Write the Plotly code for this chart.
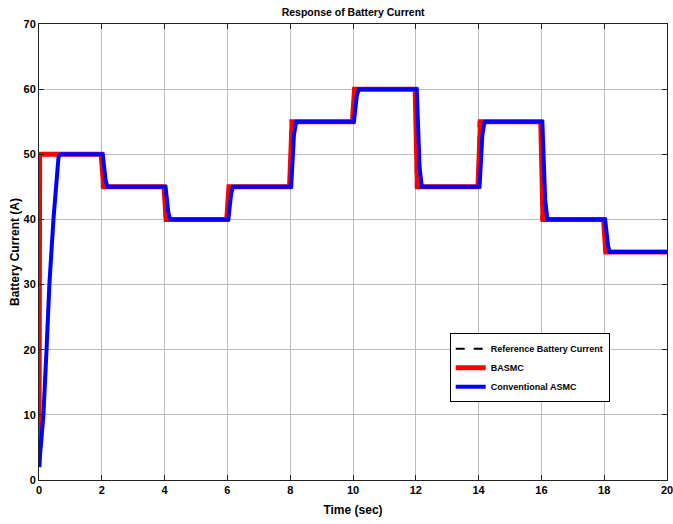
import plotly.graph_objects as go

# Reference battery current set-points (A) and the times (s) they switch
step_times = [0, 2, 4, 6, 8, 10, 12, 14, 16, 18, 20]
ref_levels = [50, 45, 40, 45, 55, 60, 45, 55, 40, 35, 35]

# BASMC response: near-instant tracking of each step
bas_t = [0, 0.02, 1.98, 2.06, 3.98, 4.05, 5.98, 6.05, 7.98, 8.06, 9.98, 10.05,
         11.98, 12.05, 13.98, 14.06, 15.98, 16.05, 17.98, 18.05, 20]
bas_i = [2, 50, 50, 45, 45, 40, 40, 45, 45, 55, 55, 60,
         60, 45, 45, 55, 55, 40, 40, 35, 35]

# Conventional ASMC response: slower start-up and lagged transitions
asmc_t = [0, 0.14, 0.24, 0.33, 0.46, 0.56, 0.62, 0.68,
          2.03, 2.12, 2.18, 4.03, 4.12, 4.18, 6.03, 6.12, 6.18,
          8.03, 8.12, 8.19, 10.03, 10.12, 10.19, 12.03, 12.12, 12.19,
          14.03, 14.12, 14.19, 16.03, 16.12, 16.19, 18.03, 18.12, 18.18, 20]
asmc_i = [2, 10, 20, 30, 40, 47, 49.5, 50,
          50, 46, 45, 45, 41, 40, 40, 44, 45,
          45, 53, 55, 55, 59, 60, 60, 48, 45,
          45, 53, 55, 55, 43, 40, 40, 36, 35, 35]

# Reference as a staircase
ref_t, ref_i = [], []
for k in range(len(step_times) - 1):
    ref_t += [step_times[k], step_times[k + 1]]
    ref_i += [ref_levels[k], ref_levels[k]]

fig = go.Figure()
fig.add_trace(go.Scatter(x=ref_t, y=ref_i, mode="lines", name="Reference Battery Current",
                         line=dict(color="black", width=2, dash="dash")))
fig.add_trace(go.Scatter(x=bas_t, y=bas_i, mode="lines", name="BASMC",
                         line=dict(color="#ff0000", width=5)))
fig.add_trace(go.Scatter(x=asmc_t, y=asmc_i, mode="lines", name="Conventional ASMC",
                         line=dict(color="#0000ff", width=4)))

font_family = "Liberation Sans, Arial, sans-serif"
axis_common = dict(
    showgrid=True, gridcolor="#bdbdbd", gridwidth=1,
    showline=True, linecolor="#222222", linewidth=1, mirror="allticks",
    ticks="inside", ticklen=5, tickcolor="#222222",
    zeroline=False, ticklabeloverflow="allow", automargin=False,
    tickfont=dict(family=font_family, size=11, color="black", weight="bold"),
)

fig.update_layout(
    width=673, height=524,
    margin=dict(l=39, r=6, t=24, b=44),
    paper_bgcolor="white", plot_bgcolor="white",
    title=dict(text="Response of Battery Current", x=0.5247, xanchor="center",
               y=0.977, yanchor="middle",
               font=dict(family=font_family, size=10.5, color="black", weight="bold")),
    xaxis=dict(range=[0, 20], dtick=2, tick0=0,
               title=dict(text="Time (sec)", standoff=10,
                          font=dict(family=font_family, size=12, color="black", weight="bold")),
               **axis_common),
    yaxis=dict(range=[0, 70], dtick=10, tick0=0,
               title=dict(text="Battery Current (A)", standoff=1,
                          font=dict(family=font_family, size=12, color="black", weight="bold")),
               **axis_common),
    legend=dict(x=0.654, y=0.322, xanchor="left", yanchor="top",
                bgcolor="white", bordercolor="black", borderwidth=1,
                font=dict(family=font_family, size=9, color="black", weight="bold"),
                tracegroupgap=0, itemwidth=30),
    showlegend=True,
)

fig.write_html("out.html")
